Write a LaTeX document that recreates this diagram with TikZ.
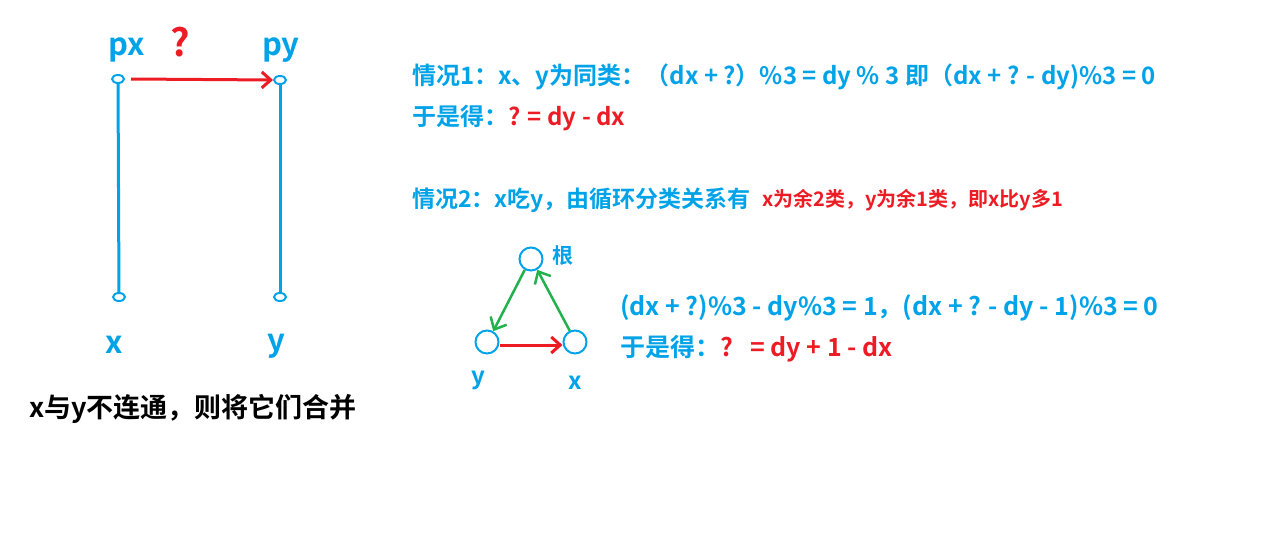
\documentclass[tikz,border=0pt]{standalone}
\usepackage{fontspec}
\setmainfont{Noto Sans CJK SC}[BoldFont={Noto Sans CJK SC Bold}]
\usepackage{xcolor}
\usetikzlibrary{shapes.geometric,arrows.meta}

\definecolor{pblue}{RGB}{0,162,232}
\definecolor{pred}{RGB}{237,28,36}
\definecolor{pgreen}{RGB}{34,177,76}

\begin{document}
\begin{tikzpicture}[x=1pt,y=-1pt,
	end/.style={ellipse, draw=pblue, line width=2, inner sep=0, minimum width=12, minimum height=8},
	ring/.style={circle, draw=pblue, line width=2, inner sep=0, minimum size=23},
	lbl/.style={text=pblue, font=\bfseries\fontsize{31}{35}\selectfont},
	txt/.style={anchor=west, text=pblue, inner sep=0, font=\bfseries\fontsize{24}{28}\selectfont},
	link/.style={pblue, line width=3}]

\useasboundingbox (0,0) rectangle (1274,546);

% left part
\node[end] (pxo) at (118,79) {};
\node[end] (pyo) at (280,80) {};
\node[end] (xo) at (119,297) {};
\node[end] (yo) at (280,297) {};
\draw[link] (pxo) -- (xo);
\draw[link] (pyo) -- (yo);
\draw[pred, line width=3, -{Straight Barb[length=9, width=16]}] ([xshift=6]pxo.east) -- (pyo.west);

\node[lbl] (px) at (127,50) {px};
\node[lbl] (py) at (281,50) {py};
\node[text=pred, font=\bfseries\fontsize{38}{42}\selectfont] (qm) at (180,42) {?};
\node[lbl] (xl) at (114,345) {x};
\node[lbl] (yl) at (276,346) {y};
\node[font=\bfseries\fontsize{27}{31}\selectfont] (merge) at (193,409) {x与y不连通，则将它们合并};

% case 1
\node[txt] (c1) at (412,77) {情况1：x、y为同类：（dx + ?）\%3 = dy \% 3 即（dx + ? - dy)\%3 = 0};
\node[txt] (r1) at (412,118) {于是得：\textcolor{pred}{? = dy - dx}};

% case 2
\node[txt, font=\bfseries\fontsize{23}{27}\selectfont] (c2) at (412,200) {情况2：x吃y，由循环分类关系有};
\node[txt, text=pred, font=\bfseries\fontsize{20}{24}\selectfont] (c2r) at (762,200) {x为余2类，y为余1类，即x比y多1};

\node[ring] (root) at (531,259) {};
\node[ring] (ty) at (487,342) {};
\node[ring] (tx) at (575,342) {};
\node[text=pblue, font=\bfseries\fontsize{21}{25}\selectfont] (rl) at (563,256) {根};
\node[text=pblue, font=\bfseries\fontsize{24}{28}\selectfont] (tyl) at (478,380) {y};
\node[text=pblue, font=\bfseries\fontsize{24}{28}\selectfont] (txl) at (575,383) {x};

\draw[pgreen, line width=2.5, -{Straight Barb[length=10, width=18]}] (root.240) -- (ty.60);
\draw[pgreen, line width=2.5, -{Straight Barb[length=10, width=18]}] (tx.115) -- (root.-60);
\draw[pred, line width=3, -{Straight Barb[length=9, width=16]}] ([yshift=-3]ty.east) -- ([yshift=-3]tx.west);

\node[txt, font=\bfseries\fontsize{25}{29}\selectfont] (c3) at (620,308) {(dx + ?)\%3 - dy\%3 = 1，(dx + ? - dy - 1)\%3 = 0};
\node[txt, font=\bfseries\fontsize{25}{29}\selectfont] (r3) at (620,349) {于是得：\textcolor{pred}{?\ \ \ = dy + 1 - dx}};

\end{tikzpicture}
\end{document}
